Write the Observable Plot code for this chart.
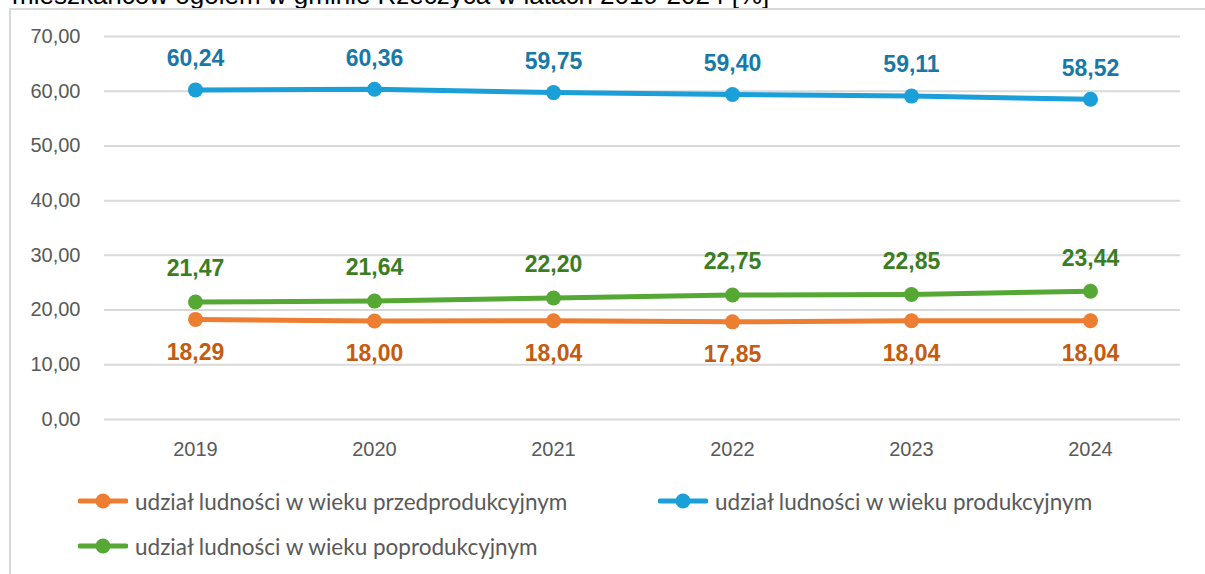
<!DOCTYPE html>
<html>
<head>
<meta charset="utf-8">
<script src="https://cdn.jsdelivr.net/npm/d3@7"></script>
<script src="https://cdn.jsdelivr.net/npm/@observablehq/plot@0.6"></script>
<style>
  html, body { margin: 0; padding: 0; background: #fff; overflow: hidden; }
  #wrap { position: relative; width: 1205px; height: 574px; overflow: hidden; }
  #title { position: absolute; left: 12px; top: -18px; font: 26px "Liberation Sans", Arial, sans-serif; line-height: 26px; color: #000; white-space: nowrap; }
  #frame { position: absolute; left: 9px; top: 8px; width: 1300px; height: 700px; border-top: 2px solid #D9D9D9; border-left: 2px solid #D9D9D9; }
  #chart { position: absolute; left: 0; top: 0; }
  .leg { position: absolute; display: flex; align-items: center; font-family: Lato, "Open Sans", sans-serif; font-size: 22.5px; color: #595959; white-space: nowrap; }
  .leg svg { margin-right: 7px; }
</style>
</head>
<body>
<div id="wrap">
  <div id="title">mieszkańców ogółem w gminie Rzeczyca w latach 2019-2024 [%]</div>
  <div id="frame"></div>
  <div id="chart"></div>
  <div id="legend"></div>
</div>
<script>
const years = ["2019", "2020", "2021", "2022", "2023", "2024"];
const przedprodukcyjny = [18.29, 18.00, 18.04, 17.85, 18.04, 18.04];
const produkcyjny = [60.24, 60.36, 59.75, 59.40, 59.11, 58.52];
const poprodukcyjny = [21.47, 21.64, 22.20, 22.75, 22.85, 23.44];
const yTicks = [0, 10, 20, 30, 40, 50, 60, 70];
const seriesNames = [
  "udział ludności w wieku przedprodukcyjnym",
  "udział ludności w wieku produkcyjnym",
  "udział ludności w wieku poprodukcyjnym"
];
const lineColors = ["#ED7D31", "#1A9FD9", "#56A834"];
const labelColors = ["#C55A11", "#1878A8", "#3B7D23"];
const labelDy = [33, -31, -33];

const seriesValues = [przedprodukcyjny, produkcyjny, poprodukcyjny];
const rows = [];
seriesValues.forEach((vals, s) => vals.forEach((v, i) => rows.push({series: s, year: years[i], value: v})));

const fmt = v => d3.format(".2f")(v).replace(".", ",");

const marks = [
  Plot.ruleY(yTicks, {stroke: "#D9D9D9", strokeWidth: 2}),
  Plot.axisY({ticks: yTicks, tickSize: 0, tickPadding: 24, tickFormat: fmt, fill: "#595959", fontSize: 20}),
  Plot.axisX({tickSize: 0, tickPadding: 22, fill: "#595959", fontSize: 20})
];
[0, 2, 1].forEach(s => {
  const data = rows.filter(r => r.series === s);
  marks.push(Plot.line(data, {x: "year", y: "value", stroke: lineColors[s], strokeWidth: 5}));
  marks.push(Plot.dot(data, {x: "year", y: "value", fill: lineColors[s], r: 7.5}));
  marks.push(Plot.text(data, {x: "year", y: "value", text: d => fmt(d.value), dy: labelDy[s], fill: labelColors[s], fontSize: 23, fontWeight: "bold", fontFamily: "Liberation Sans, Arial, sans-serif"}));
});

const chart = Plot.plot({
  width: 1205,
  height: 470,
  marginLeft: 104,
  marginRight: 25,
  marginTop: 36,
  marginBottom: 51,
  style: {fontFamily: "Liberation Sans, Arial, sans-serif", background: "transparent", overflow: "visible"},
  x: {type: "point", domain: years, padding: 0.5, label: null},
  y: {domain: [0, 70], label: null},
  marks
});
document.getElementById("chart").appendChild(chart);

const legendPos = [[78, 501], [658, 501], [78, 546]];
const legend = document.getElementById("legend");
seriesNames.forEach((name, s) => {
  const el = document.createElement("div");
  el.className = "leg";
  el.style.left = legendPos[s][0] + "px";
  el.style.top = (legendPos[s][1] - 15) + "px";
  el.style.height = "30px";
  el.innerHTML = `<svg width="50" height="16"><line x1="2" x2="48" y1="8" y2="8" stroke="${lineColors[s]}" stroke-width="5" stroke-linecap="round"/><circle cx="25" cy="8" r="7.5" fill="${lineColors[s]}"/></svg><span>${name}</span>`;
  legend.appendChild(el);
});
</script>
</body>
</html>
